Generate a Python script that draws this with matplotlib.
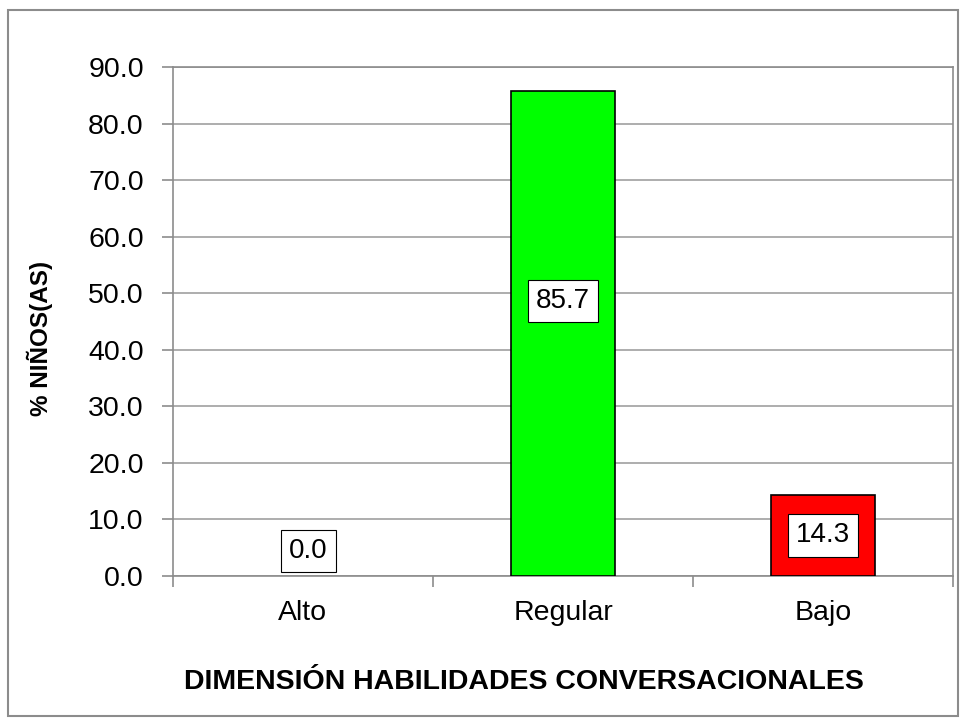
import matplotlib
matplotlib.use("Agg")
import matplotlib.pyplot as plt
from matplotlib.patches import Rectangle

plt.rcParams['font.family'] = ['Liberation Sans', 'DejaVu Sans']

categorias = ['Alto', 'Regular', 'Bajo']
porcentajes = [0.0, 85.7, 14.3]
colores = ['#ffffff', '#00ff00', '#ff0000']
yticks = [0, 10, 20, 30, 40, 50, 60, 70, 80, 90]
# altura donde va cada etiqueta de dato
pos_etiquetas = [4.4, 48.6, 7.2]

fig = plt.figure(figsize=(9.66, 7.25), dpi=100)
ax = fig.add_axes([173/966, 1 - 576/725, (953 - 173)/966, (576 - 67)/725])

# borde gris del grafico
fig.patches.append(Rectangle((8/966, 9/725), 950/966, 706/725, transform=fig.transFigure,
                             fill=False, edgecolor='#8c8c8c', linewidth=1.5))

x = range(len(categorias))
anchos = [0 if v == 0 else 1.2 for v in porcentajes]
ax.bar(x, porcentajes, width=0.4, color=colores, edgecolor='black', linewidth=anchos, zorder=3)

for i, v in enumerate(porcentajes):
    ax.text(i + (0.02 if v == 0 else 0), pos_etiquetas[i], f'{v:.1f}', ha='center', va='center',
            fontsize=20,
            bbox=dict(boxstyle='square,pad=0.3', facecolor='white', edgecolor='black', linewidth=0.8),
            zorder=4)

ax.set_xlim(-0.5, 2.5)
ax.set_ylim(0, 90)
ax.set_yticks(yticks)
ax.set_yticklabels([f'{t:.1f}' for t in yticks], fontsize=20.5)
ax.set_xticks(list(x))
ax.set_xticklabels(categorias, fontsize=20.5)
ax.tick_params(axis='x', length=0, pad=17)
ax.set_xticks([-0.5, 0.5, 1.5, 2.5], minor=True)
ax.tick_params(axis='x', which='minor', length=8, color='#8c8c8c', width=1.2)
ax.tick_params(axis='y', length=8, color='#8c8c8c', width=1.2, pad=13)

ax.grid(axis='y', color='#a0a0a0', linewidth=1.2, zorder=0)
for s in ax.spines.values():
    s.set_color('#8c8c8c')
    s.set_linewidth(1.2)

ax.set_ylabel('% NIÑOS(AS)', fontsize=17.5, fontweight='bold')
ax.yaxis.set_label_coords((53 - 173) / 780, 1 - (338 - 67) / 509)
ax.set_xlabel('DIMENSIÓN HABILIDADES CONVERSACIONALES', fontsize=20.5, fontweight='bold')
ax.xaxis.set_label_coords((524 - 173) / 780, -(669 - 576) / 509)

fig.savefig('out.png', dpi=100)
